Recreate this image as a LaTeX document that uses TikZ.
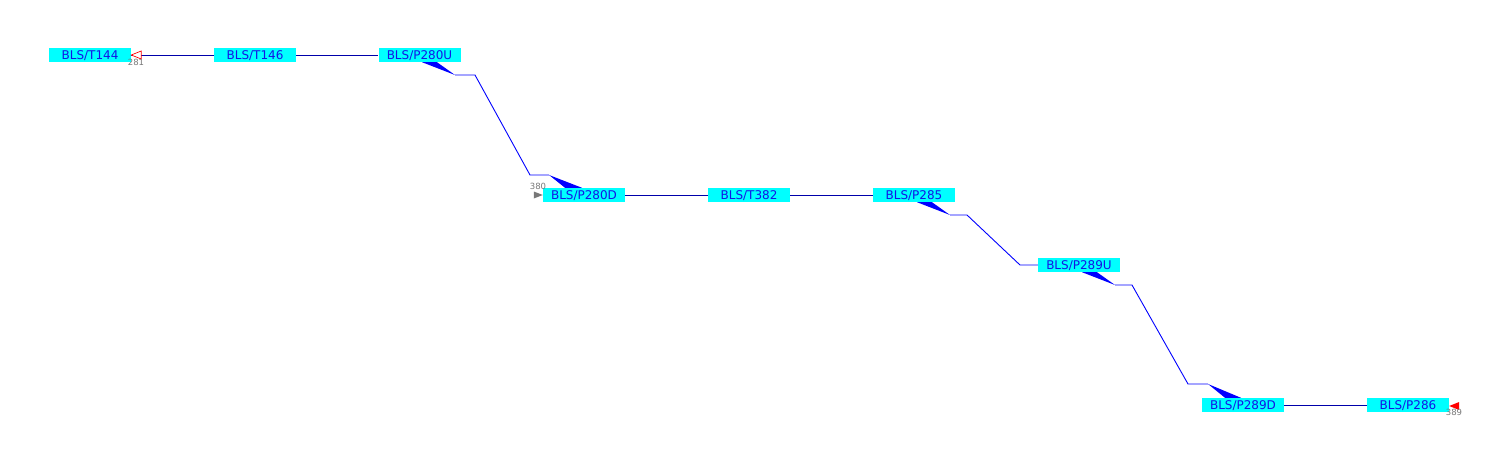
\documentclass[tikz,border=0pt]{standalone}
\usepackage{fontspec}
\setmainfont{DejaVu Sans}
\definecolor{boxcyan}{RGB}{0,255,255}
\definecolor{txtblue}{RGB}{20,20,230}
\definecolor{linkcol}{RGB}{0,0,170}
\definecolor{numgray}{RGB}{120,120,120}
\begin{document}
\begin{tikzpicture}[x=1pt,y=-1pt,
  tag/.style={fill=boxcyan,text=txtblue,minimum width=82pt,minimum height=14pt,inner sep=0pt,font=\fontsize{12}{12}\selectfont,text depth=0pt,text height=9pt,yshift=0pt},
  link/.style={draw=linkcol,line width=0.9pt},
  route/.style={draw=blue,line width=0.9pt},
  wedge/.style={fill=blue},
  num/.style={font=\fontsize{8.5}{9}\selectfont,text=numgray,inner sep=0pt}]
\useasboundingbox (0,0) rectangle (1500,460);
\fill[white] (0,0) rectangle (1500,460);

\node[tag] (T144) at (90,55) {BLS/T144};
\node[tag] (T146) at (255,55) {BLS/T146};
\node[tag] (P280U) at (419.5,55) {BLS/P280U};
\node[tag] (P280D) at (584,195) {BLS/P280D};
\node[tag] (T382) at (749,195) {BLS/T382};
\node[tag] (P285) at (914,195) {BLS/P285};
\node[tag] (P289U) at (1079,265) {BLS/P289U};
\node[tag] (P289D) at (1243,405) {BLS/P289D};
\node[tag] (P286) at (1408,405) {BLS/P286};

% straight links
\draw[link] (T144.east) -- (T146.west);
\draw[link] (T146.east) -- (P280U.west);
\draw[link] (P280D.east) -- (T382.west);
\draw[link] (T382.east) -- (P285.west);
\draw[link] (P289D.east) -- (P286.west);

% P280U -> P280D
\coordinate (a1) at (455,75);
\coordinate (a2) at (475,75);
\coordinate (a3) at (530,175);
\coordinate (a4) at (549,175);
\fill[wedge] ([xshift=2.5pt]P280U.south) -- ([xshift=17.5pt]P280U.south) -- (a1) -- cycle;
\draw[route] (a1) -- (a2) -- (a3) -- (a4);
\fill[wedge] (a4) -- ([xshift=-2pt]P280D.north) -- ([xshift=-19pt]P280D.north) -- cycle;

% P285 -> P289U
\coordinate (b1) at (950,215);
\coordinate (b2) at (967,215);
\coordinate (b3) at (1020,265);
\fill[wedge] ([xshift=3pt]P285.south) -- ([xshift=18pt]P285.south) -- (b1) -- cycle;
\draw[route] (b1) -- (b2) -- (b3) -- (P289U.west);

% P289U -> P289D
\coordinate (c1) at (1115,285);
\coordinate (c2) at (1132,285);
\coordinate (c3) at (1188,384);
\coordinate (c4) at (1208,384);
\fill[wedge] ([xshift=3pt]P289U.south) -- ([xshift=18pt]P289U.south) -- (c1) -- cycle;
\draw[route] (c1) -- (c2) -- (c3) -- (c4);
\fill[wedge] (c4) -- ([xshift=-2pt]P289D.north) -- ([xshift=-18pt]P289D.north) -- cycle;

% end markers
\filldraw[draw=red,fill=white,line width=0.7pt] (T144.east) -- ++(10,-4) -- ++(0,8) -- cycle;
\node[num] (n281) at (136,62.5) {281};
\fill[numgray] (P280D.west) -- ++(-9,-3.5) -- ++(0,7) -- cycle;
\node[num] (n380) at (538,186) {380};
\fill[red] ([yshift=-1pt]P286.east) -- ++(10,-4) -- ++(0,8) -- cycle;
\node[num] (n389) at (1454,412.5) {389};
\end{tikzpicture}
\end{document}
